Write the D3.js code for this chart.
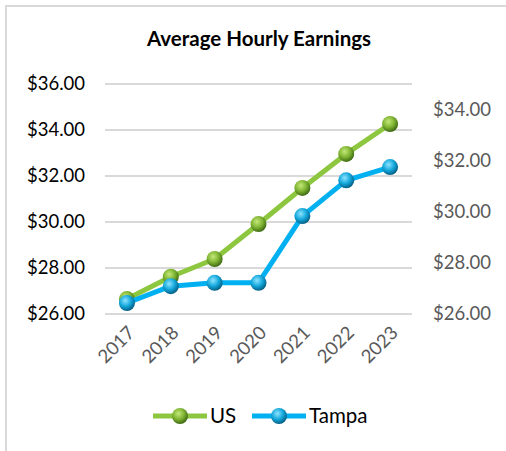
<!DOCTYPE html>
<html><head><meta charset="utf-8">
<script src="https://cdnjs.cloudflare.com/ajax/libs/d3/7.8.5/d3.min.js"></script>
<style>body{margin:0;background:#fff}svg{display:block}</style>
</head><body>
<script>
const years = ["2017","2018","2019","2020","2021","2022","2023"];
const usValues = [26.65, 27.62, 28.39, 29.91, 31.48, 32.96, 34.26];
const tampaValues = [26.43, 27.09, 27.22, 27.22, 29.83, 31.23, 31.75];
const leftTicks = [26, 28, 30, 32, 34, 36];
const rightTicks = [26, 28, 30, 32, 34];
const title = "Average Hourly Earnings";
const seriesNames = ["US", "Tampa"];

const W = 506, H = 451;
const font = "Lato, 'Open Sans', sans-serif";
const svg = d3.select("body").append("svg").attr("width", W).attr("height", H);

// frame
svg.append("path").attr("d", `M6,${H} L6,6 L${W},6`).attr("fill","none").attr("stroke","#d9d9d9").attr("stroke-width",2);

const defs = svg.append("defs");
function grad(id, c0, c1, c2) {
  const g = defs.append("radialGradient").attr("id", id).attr("cx","40%").attr("cy","35%").attr("r","65%");
  g.append("stop").attr("offset","0%").attr("stop-color",c0);
  g.append("stop").attr("offset","55%").attr("stop-color",c1);
  g.append("stop").attr("offset","100%").attr("stop-color",c2);
}
grad("gGreen", "#c4e87a", "#7fb432", "#3f6a14");
grad("gBlue", "#8ee3ff", "#14a8dc", "#045f85");

const plotL = 105, plotR = 412, plotT = 84, plotB = 314;
const x = d3.scaleBand().domain(years).range([plotL, plotR]);
const yL = d3.scaleLinear().domain([26, 36]).range([plotB, plotT]);
const yR = d3.scaleLinear().domain([26, 35]).range([plotB, plotT]);

svg.append("text").attr("x", 259).attr("y", 46).attr("text-anchor","middle")
  .attr("font-family", font).attr("font-weight","bold").attr("font-size", 20.5).attr("fill","#000").text(title);

// gridlines
svg.append("g").selectAll("line").data(leftTicks).join("line")
  .attr("x1", plotL).attr("x2", plotR).attr("y1", d => yL(d)).attr("y2", d => yL(d))
  .attr("stroke","#d9d9d9").attr("stroke-width",2);

// left axis
const axL = svg.append("g").attr("transform", `translate(${plotL},0)`)
  .call(d3.axisLeft(yL).tickValues(leftTicks).tickSize(0).tickPadding(20).tickFormat(d => "$" + d.toFixed(2)));
axL.select(".domain").remove();
axL.selectAll("text").attr("font-family", font).attr("font-size", 18.5).attr("fill","#000");

// right axis
const axR = svg.append("g").attr("transform", `translate(${plotR},0)`)
  .call(d3.axisRight(yR).tickValues(rightTicks).tickSize(0).tickPadding(21).tickFormat(d => "$" + d.toFixed(2)));
axR.select(".domain").remove();
axR.selectAll("text").attr("font-family", font).attr("font-size", 18.5).attr("fill","#595959");

// x axis
const axX = svg.append("g").attr("transform", `translate(0,${plotB})`)
  .call(d3.axisBottom(x).tickSize(0).tickPadding(0));
axX.select(".domain").remove();
axX.selectAll("text").attr("font-family", font).attr("font-size", 18.5).attr("fill","#595959")
  .attr("text-anchor","end").attr("dy", 0)
  .attr("transform", "translate(9,20) rotate(-45)");

const cx = d => x(d) + x.bandwidth() / 2;

function drawSeries(vals, yScale, color, gid) {
  const line = d3.line().x((d, i) => cx(years[i])).y(d => yScale(d));
  svg.append("path").datum(vals).attr("d", line).attr("fill","none")
    .attr("stroke", color).attr("stroke-width", 5).attr("stroke-linejoin","round");
  svg.append("g").selectAll("circle").data(vals).join("circle")
    .attr("cx", (d, i) => cx(years[i])).attr("cy", d => yScale(d)).attr("r", 8)
    .attr("fill", `url(#${gid})`);
}
drawSeries(usValues, yL, "#8dc63f", "gGreen");
drawSeries(tampaValues, yR, "#00b0f0", "gBlue");

// legend
const leg = [
  {name: seriesNames[0], color: "#8dc63f", gid: "gGreen", x0: 153},
  {name: seriesNames[1], color: "#00b0f0", gid: "gBlue", x0: 252}
];
const ly = 416;
leg.forEach(l => {
  svg.append("line").attr("x1", l.x0).attr("x2", l.x0 + 54).attr("y1", ly).attr("y2", ly)
    .attr("stroke", l.color).attr("stroke-width", 5);
  svg.append("circle").attr("cx", l.x0 + 27).attr("cy", ly).attr("r", 8).attr("fill", `url(#${l.gid})`);
  svg.append("text").attr("x", l.x0 + 57).attr("y", ly + 7).attr("font-family", font)
    .attr("font-size", 20.5).attr("fill", "#000").text(l.name);
});
</script>
</body></html>
